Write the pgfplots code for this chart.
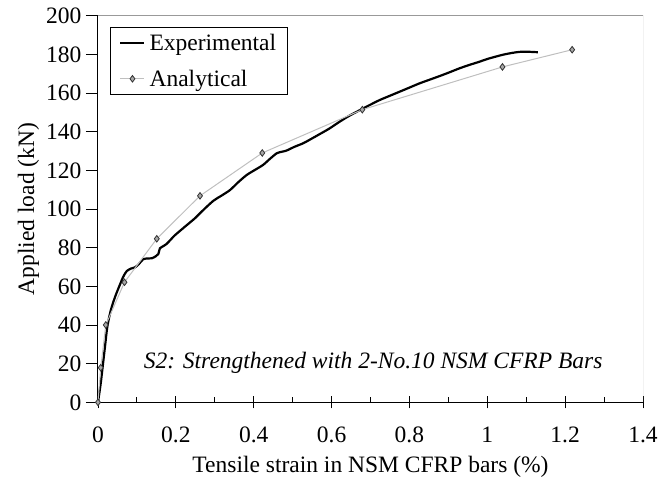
\documentclass[border=0pt]{standalone}
\usepackage{pgfplots}
\pgfplotsset{compat=1.18}
\usepackage{fontspec}
\setmainfont{Liberation Serif}
\newcommand{\bigf}{\fontsize{23.5bp}{28bp}\selectfont}
\begin{document}
\begin{tikzpicture}
\begin{axis}[
  at={(0,0)}, anchor=south west,
  scale only axis, width=545bp, height=386.6bp,
  xmin=0, xmax=1.4, ymin=0, ymax=200,
  xtick={0,0.2,0.4,0.6,0.8,1,1.2,1.4},
  ytick={0,20,40,60,80,100,120,140,160,180,200},
  minor x tick num=1,
  axis x line*=bottom, axis y line*=left,
  axis line style={-, black, line width=1bp},
  xtick align=center, ytick align=outside,
  major tick length=12bp, minor tick length=5.5bp,
  tick style={black, line width=0.9bp},
  minor x tick style={yshift=2.75bp},
  font=\bigf,
  /pgf/number format/assume math mode=true,
  scaled ticks=false,
  xticklabel={\bigf\pgfmathprintnumber[assume math mode=true]{\tick}},
  yticklabel={\bigf\pgfmathprintnumber[assume math mode=true]{\tick}},
  xticklabel style={yshift=-15bp},
  yticklabel style={xshift=-1bp},
  xlabel={\bigf Tensile strain in NSM CFRP bars (\%)},
  ylabel={\bigf Applied load (kN)},
  every axis y label/.style={at={(axis description cs:-0.1275,0.5)}, rotate=90, anchor=center},
  every axis x label/.style={at={(axis description cs:0.5,0)}, anchor=base, yshift=-70.4bp},
  legend style={at={(rel axis cs:0.022,0.9715)}, anchor=north west, draw=black, line width=0.8bp,
    font=\bigf, row sep=14bp, inner xsep=9bp, inner ysep=5bp},
  legend cell align=left,
  legend image code/.code={\draw[mark repeat=2,mark phase=2,#1] plot coordinates {(0bp,0bp) (12bp,0bp) (24bp,0bp)}; \path (26bp,0bp);},
]
\addplot[black, line width=2.2bp, smooth] coordinates {
(0,0) (0.007,9.8) (0.012,18.4) (0.018,28.8) (0.024,39.1) (0.033,47.7) (0.044,54.6)
(0.056,60.7) (0.065,65) (0.074,67.9) (0.085,69.2) (0.095,69.8) (0.105,71.5) (0.116,74)
(0.128,74.4) (0.138,74.5) (0.148,75.5) (0.155,76.7) (0.159,79.7) (0.166,80.6) (0.176,81.9)
(0.187,84.2) (0.198,86.5) (0.223,90.8) (0.249,95.2) (0.266,98.6) (0.296,104.2) (0.318,107)
(0.339,109.8) (0.360,113.8) (0.382,117.6) (0.403,120.2) (0.424,122.8) (0.442,126) (0.459,128.8)
(0.472,129.6) (0.484,130.2) (0.505,132.2) (0.527,134) (0.548,136.3) (0.57,138.8) (0.595,141.7)
(0.621,145.2) (0.648,148.5) (0.677,151.6) (0.700,154) (0.724,156.4) (0.750,158.6) (0.775,160.7)
(0.800,162.8) (0.826,165) (0.852,166.9) (0.878,168.8) (0.904,170.8) (0.929,172.8) (0.955,174.6)
(0.98,176.2) (1.0,177.6) (1.023,178.9) (1.040,179.8) (1.057,180.5) (1.075,181.1) (1.092,181.4)
(1.11,181.3) (1.13,181.1)
};
\addlegendentry{Experimental}
\addplot[color=black!25, line width=1bp, mark=diamond*, mark size=3.3bp,
  mark options={fill=black!35, draw=black!80, line width=0.8bp}] coordinates {
(0,0) (0.007,17.9) (0.02,40) (0.068,62.1) (0.151,84.6) (0.262,106.8) (0.422,129)
(0.679,151.4) (1.039,173.5) (1.218,182.4)
};
\addlegendentry{Analytical}
\draw[black!40, line width=1bp] (rel axis cs:0,1) -- (rel axis cs:1,1) -- (rel axis cs:1,0);
\node[anchor=base, font=\bigf\itshape] at (axis cs:0.7067,17.7)
  {S2: Strengthened with 2-No.10 NSM CFRP Bars};
\end{axis}
\pgfresetboundingbox
\path[use as bounding box] (-98bp,-77.7bp) rectangle (574bp,402.3bp);
\end{tikzpicture}
\end{document}
